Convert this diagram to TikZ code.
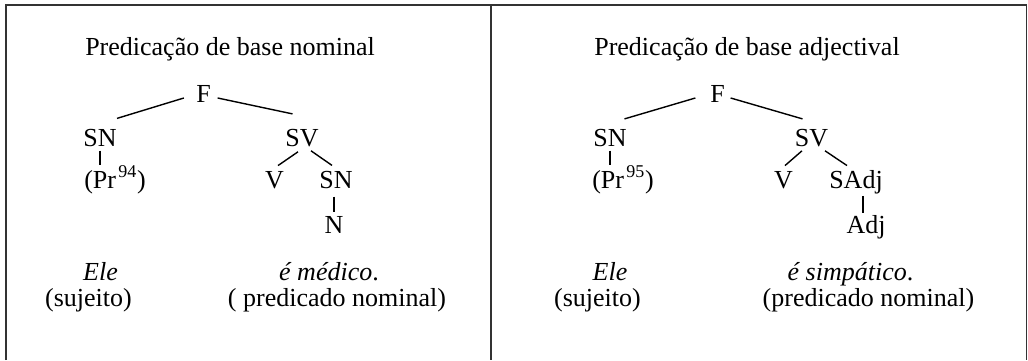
\documentclass[tikz,border=0pt]{standalone}
\usepackage{fontspec}
\setmainfont{Liberation Serif}
\usepackage{tikz}

\newcommand{\notesup}[1]{\kern1.2pt\raisebox{5.5pt}{\fontsize{9}{9}\selectfont #1}\kern0.3pt}

\begin{document}
\begin{tikzpicture}[x=0.5pt, y=-0.5pt,
    every node/.style={inner sep=0pt, anchor=base, font=\fontsize{13}{15}\selectfont},
    frame/.style={line width=0.9pt, color=black!80},
    branch/.style={line width=0.7pt}]
    \useasboundingbox (0,0) rectangle (1028,360);

    % Frame
    \draw[frame] (6,360) -- (6,5) -- (1026.5,5) -- (1026.5,360);
    \draw[frame] (491,5) -- (491,360);

    % Left side - nominal
    \node (title1) at (230,55) {Predicação de base nominal};
    \node (f1) at (203.5,102) {F};
    \node (sn1) at (100,146) {SN};
    \node (sv1) at (302,146) {SV};
    \node (pr1) at (115,188) {(Pr\notesup{94})};
    \node (v1) at (274.5,188) {V};
    \node (sn3) at (336,188) {SN};
    \node (n1) at (334,233) {N};
    \draw[branch] ([shift={(-12,4.5)}]f1.west) -- ([shift={(0,-10)}]sn1.north east);
    \draw[branch] ([shift={(6.5,4.5)}]f1.east) -- ([shift={(7.5,-14.5)}]sv1.north west);
    \draw[branch, shorten <=2pt] (sn1.south) -- (sn1.south |- pr1.north);
    \draw[branch] ([shift={(-4,5)}]sv1.south) -- ([shift={(3.5,-5)}]v1.north);
    \draw[branch] ([shift={(9,4)}]sv1.south) -- ([shift={(-4,-5)}]sn3.north);
    \draw[branch, shorten <=4pt, shorten >=2pt] (n1.north |- sn3.south) -- (n1.north);

    % Left side - sentence
    \node (ele1) at (100.5,280) {\textit{Ele}};
    \node (suj1) at (88.5,306) {(sujeito)};
    \node (pred1) at (329,280) {\textit{é médico}.};
    \node (pn1) at (337,306) {( predicado nominal)};

    % Right side - adjectival
    \node (title2) at (747,55) {Predicação de base adjectival};
    \node (f2) at (717.5,102) {F};
    \node (sn2) at (610,146) {SN};
    \node (sv2) at (811.5,146) {SV};
    \node (pr2) at (623,188) {(Pr\notesup{95})};
    \node (v2) at (783.5,188) {V};
    \node (sadj) at (856,188) {SAdj};
    \node (adj) at (866,233) {Adj};
    \draw[branch] ([shift={(-14.5,4.5)}]f2.west) -- ([shift={(-2.5,-9.5)}]sn2.north east);
    \draw[branch] ([shift={(5.5,4.5)}]f2.east) -- ([shift={(8,-9.5)}]sv2.north west);
    \draw[branch, shorten <=2pt] (sn2.south) -- (sn2.south |- pr2.north);
    \draw[branch] ([shift={(-9.5,4)}]sv2.south) -- ([shift={(1.5,-5)}]v2.north);
    \draw[branch] ([shift={(13.5,4)}]sv2.south) -- ([shift={(-9,-4)}]sadj.north);
    \draw[branch, shorten <=1pt, shorten >=1pt] ([xshift=-1.5pt]adj.north |- sadj.south) -- ([xshift=-1.5pt]adj.north);

    % Right side - sentence
    \node (ele2) at (610,280) {\textit{Ele}};
    \node (suj2) at (597.5,306) {(sujeito)};
    \node (pred2) at (850.5,280) {\textit{é simpático}.};
    \node (pn2) at (868.5,306) {(predicado nominal)};
\end{tikzpicture}
\end{document}
